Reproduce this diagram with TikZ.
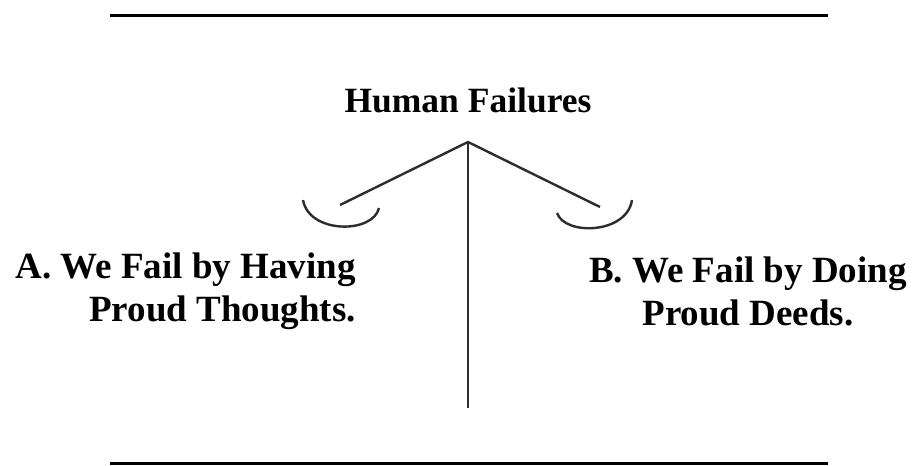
\documentclass[tikz,border=0pt]{standalone}
\usepackage{fontspec}
\setmainfont{Liberation Serif}
\usepackage{tikz}
\usetikzlibrary{positioning}
\definecolor{scGray}{RGB}{45,45,45}

\begin{document}
\begin{tikzpicture}[
  x=1pt,y=-1pt,
  every node/.style={font=\bfseries\fontsize{37}{43}\selectfont,text=black},
  rule/.style={draw=black,line width=3pt},
  beam/.style={draw=scGray,line width=2.4pt},
  side/.style={inner sep=0pt}
]
\useasboundingbox (0,0) rectangle (914,466);
% rules top and bottom
\draw[rule] (110,15) -- (828,15);
\draw[rule] (110,463) -- (828,463);

\node[font=\bfseries\fontsize{35.5}{42}\selectfont] (title) at (468,100) {Human Failures};

\coordinate (apex) at (468,142);
\coordinate (post) at (468,408);
\coordinate (armL) at (340,205);
\coordinate (armR) at (600,207);

\draw[beam] (apex) -- (post);
\draw[beam] (armL) -- (apex) -- (armR);
% pans
\draw[beam] (303,200) .. controls (309,234) and (373,234) .. (379,208);
\draw[beam] (557,213) .. controls (565,236) and (627,234) .. (632,200);

\node[side,anchor=east,align=right] (A) at (356,291)
  {A. We Fail by Having\\Proud Thoughts.};
\node[side,align=center] (B) at (748,291)
  {B. We Fail by Doing\\Proud Deeds.};
\end{tikzpicture}
\end{document}
